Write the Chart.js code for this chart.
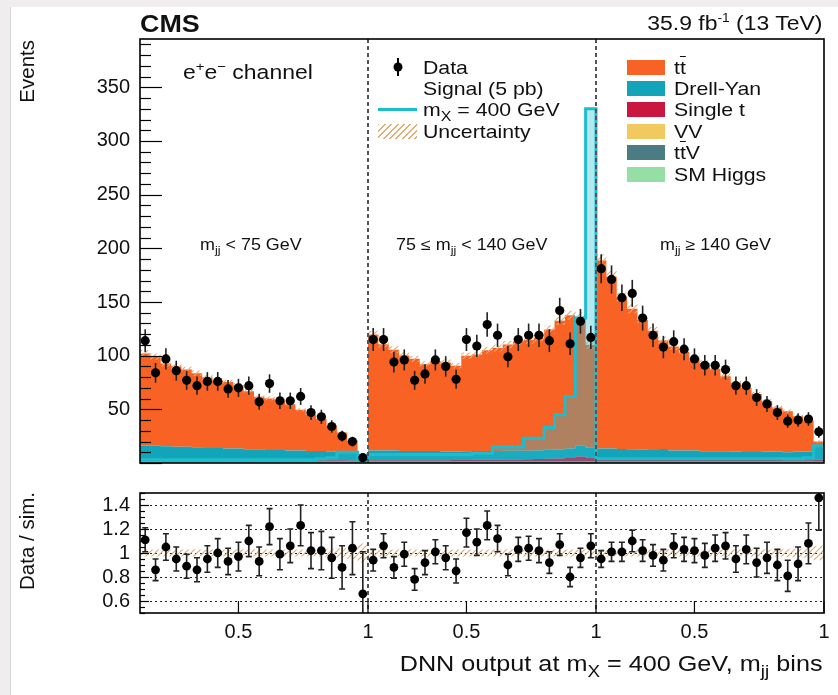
<!DOCTYPE html>
<html>
<head>
<meta charset="utf-8">
<title>DNN output at mX = 400 GeV, e+e- channel</title>
<script src="https://cdn.jsdelivr.net/npm/chart.js@4.4.1/dist/chart.umd.min.js"></script>
<style>
  html, body { margin: 0; padding: 0; }
  body { width: 838px; height: 695px; position: relative; overflow: hidden; background: #efeded;
         font-family: "Liberation Sans", Arial, Helvetica, sans-serif; color: #111; }
  #sheet { position: absolute; left: 10px; top: 7px; right: 0; bottom: 0; background: #fff; border-left: 1px solid #d4d4d4; }
  canvas { position: absolute; left: 0; }
  #main { top: 0; }
  #ratio { top: 480px; }
  .txt { position: absolute; white-space: nowrap; line-height: 1; transform: scaleX(1.12); transform-origin: left center; }
  .rt { transform-origin: right center; }
  .vt { position: absolute; writing-mode: vertical-rl; transform: rotate(180deg); white-space: nowrap; line-height: 1; font-size: 20.5px; }
  .sw { position: absolute; left: 627px; width: 38px; height: 15px; }
  sub, sup { line-height: 0; }
  .ov { text-decoration: overline; }
  .hatch { background: repeating-linear-gradient(135deg, #e3ad72 0 1.4px, rgba(255,255,255,0) 1.4px 4.5px); }
</style>
</head>
<body>
<div id="sheet"></div>
<canvas id="main" width="838" height="480"></canvas>
<canvas id="ratio" width="838" height="215"></canvas>

<div class="txt" style="left:140px; top:12px; font-size:24px; font-weight:bold;">CMS</div>
<div class="txt rt" style="right:16px; top:12.5px; font-size:20.5px;">35.9 fb<sup style="font-size:0.6em">-1</sup> (13 TeV)</div>
<div class="vt" style="left:17px; top:40px;">Events</div>
<div class="vt" style="left:17px; top:492px;">Data / sim.</div>

<div class="txt" style="left:183px; top:61.5px; font-size:20.5px;">e<sup style="font-size:0.65em">+</sup>e<sup style="font-size:0.65em">&minus;</sup> channel</div>

<svg style="position:absolute; left:393px; top:58px;" width="10" height="18">
  <line x1="5" y1="0" x2="5" y2="18" stroke="#000" stroke-width="2"/>
  <circle cx="5" cy="9" r="4.5" fill="#000"/>
</svg>
<div class="txt" style="left:423px; top:57.7px; font-size:19px;">Data</div>
<div class="txt" style="left:423px; top:78.7px; font-size:19px;">Signal (5 pb)</div>
<div style="position:absolute; left:378px; top:107.5px; width:39px; height:3px; background:#1cbdcd;"></div>
<div class="txt" style="left:423px; top:99.7px; font-size:19px;">m<sub style="font-size:0.75em">X</sub> = 400 GeV</div>
<div class="hatch" style="position:absolute; left:378px; top:124px; width:39px; height:15px;"></div>
<div class="txt" style="left:423px; top:121.7px; font-size:19px;">Uncertainty</div>

<div class="sw" style="top:59.5px; background:#f86325;"></div>
<div class="txt" style="left:674px; top:57.7px; font-size:19px;">t<span class="ov">t</span></div>
<div class="sw" style="top:80.5px; background:#12a4b8;"></div>
<div class="txt" style="left:674px; top:78.7px; font-size:19px;">Drell-Yan</div>
<div class="sw" style="top:101.5px; background:#c9173f;"></div>
<div class="txt" style="left:674px; top:99.7px; font-size:19px;">Single t</div>
<div class="sw" style="top:123.5px; background:#f1c95f;"></div>
<div class="txt" style="left:674px; top:121.7px; font-size:19px;">VV</div>
<div class="sw" style="top:144.5px; background:#4b7c83;"></div>
<div class="txt" style="left:674px; top:142.7px; font-size:19px;">t<span class="ov">t</span>V</div>
<div class="sw" style="top:166.5px; background:#95dea5;"></div>
<div class="txt" style="left:674px; top:164.7px; font-size:19px;">SM Higgs</div>

<div class="txt" style="left:200px; top:237px; font-size:16px;">m<sub style="font-size:0.7em">jj</sub> &lt; 75 GeV</div>
<div class="txt" style="left:396px; top:237px; font-size:16px;">75 &le; m<sub style="font-size:0.7em">jj</sub> &lt; 140 GeV</div>
<div class="txt" style="left:660px; top:237px; font-size:16px;">m<sub style="font-size:0.7em">jj</sub> &ge; 140 GeV</div>

<div class="txt rt" style="right:16px; top:652.5px; font-size:22.5px;">DNN output at m<sub style="font-size:0.75em">X</sub> = 400 GeV, m<sub style="font-size:0.75em">jj</sub> bins</div>

<script>
// 66 bins: three m_jj regions, each DNN output 0.12 .. 1.00 in steps of 0.04
const regionEdges = [22, 44];
const xTickPos = [9.5, 22, 31.5, 44, 53.5, 66];
const xTickText = ['0.5', '1', '0.5', '1', '0.5', '1'];
const eventTicks = [50, 100, 150, 200, 250, 300, 350];
const ratioTicks = [0.6, 0.8, 1, 1.2, 1.4];

// observed events
const dataCounts = [
  114, 84, 97, 86, 77, 72, 76, 76, 69, 70, 72, 57, 74, 58, 58, 62, 47, 43, 34, 25, 20, 5,
  115, 115, 94, 96, 77, 83, 96, 90, 78, 115, 109, 129, 119, 99, 115, 119, 119, 114, 142, 111, 132, 117,
  181, 171, 154, 158, 135, 119, 108, 113, 106, 97, 91, 91, 87, 72, 72, 61, 55, 47, 39, 40, 41, 29
];
const dataErr = [
  10.7, 9.2, 9.8, 9.3, 8.8, 8.5, 8.7, 8.7, 8.3, 8.4, 8.5, 7.5, 8.6, 7.6, 7.6, 7.9, 6.9, 6.6, 5.8, 5.0, 4.5, 2.2,
  10.7, 10.7, 9.7, 9.8, 8.8, 9.1, 9.8, 9.5, 8.8, 10.7, 10.4, 11.4, 10.9, 9.9, 10.7, 10.9, 10.9, 10.7, 11.9, 10.5, 11.5, 10.8,
  13.5, 13.1, 12.4, 12.6, 11.6, 10.9, 10.4, 10.6, 10.3, 9.8, 9.5, 9.5, 9.3, 8.5, 8.5, 7.8, 7.4, 6.9, 6.2, 6.3, 6.4, 5.4
];

// simulated backgrounds (stacked)
const ttbar = [
  86, 83, 77, 75, 72, 69, 66, 63, 62, 59, 54, 49, 48, 46, 43, 38, 34, 30, 24, 18, 11, 0,
  108, 99, 94, 89, 86, 81, 84, 83, 80, 89, 90, 94, 96, 99, 102, 103, 105, 112, 120, 124, 120, 96,
  175, 160, 141, 131, 121, 111, 101, 97, 92, 86, 82, 77, 70, 64, 60, 54, 47, 41, 38, 33, 29, 5
];
const drellYan = [
  13, 13, 12.5, 12, 12, 11.5, 11, 11, 10.5, 10.5, 10, 10, 9.5, 9.5, 9, 9, 8.5, 8.5, 8, 8, 7.5, 6,
  9, 9, 9, 8.5, 8.5, 8.5, 8.5, 8, 8, 8, 8, 8, 8, 8, 8, 8, 8, 8.5, 8.5, 9, 10, 9,
  10, 10, 9.5, 9.5, 9, 9, 9, 8.5, 8.5, 8.5, 8, 8, 8, 8, 7.5, 7.5, 7.5, 7.5, 7.5, 8, 8, 12
];
const singleTop = [
  2, 2, 2, 2, 2, 2, 1.8, 1.8, 1.8, 1.8, 1.8, 1.6, 1.6, 1.6, 1.6, 1.5, 1.5, 1.5, 1.4, 1.4, 1.2, 1,
  1.5, 1.5, 1.5, 1.5, 1.5, 1.5, 1.5, 1.5, 1.6, 1.8, 2, 2, 2, 2.2, 2.2, 2.4, 2.6, 2.8, 3, 3.5, 5, 4,
  2.5, 2.5, 2.5, 2.2, 2.2, 2, 3, 2, 2, 2, 1.8, 1.8, 1.8, 1.6, 1.6, 1.6, 2, 2, 1.5, 1.5, 1.5, 2
];
const diboson = [
  0.5, 0.5, 0.5, 0.5, 0.5, 0.5, 0.5, 0.5, 0.5, 0.5, 0.5, 0.5, 0.5, 0.5, 0.5, 0.5, 0.5, 0.5, 0.5, 0.5, 0.5, 0.5,
  0.5, 0.5, 0.5, 0.5, 0.5, 0.5, 0.5, 0.5, 0.5, 0.5, 0.5, 0.5, 0.5, 0.5, 0.5, 0.5, 0.5, 0.5, 0.5, 0.5, 0.5, 0.5,
  0.5, 0.5, 0.5, 0.5, 0.5, 0.5, 0.5, 0.5, 0.5, 0.5, 0.5, 0.5, 0.5, 0.5, 0.5, 0.5, 0.5, 0.5, 0.5, 0.5, 0.5, 0.5
];
const ttV = [
  0.4, 0.4, 0.4, 0.4, 0.4, 0.4, 0.4, 0.4, 0.4, 0.4, 0.4, 0.4, 0.4, 0.4, 0.4, 0.4, 0.4, 0.4, 0.4, 0.4, 0.4, 0.4,
  0.4, 0.4, 0.4, 0.4, 0.4, 0.4, 0.4, 0.4, 0.4, 0.4, 0.4, 0.4, 0.4, 0.4, 0.4, 0.4, 0.4, 0.4, 0.4, 0.4, 0.4, 0.4,
  0.4, 0.4, 0.4, 0.4, 0.4, 0.4, 0.4, 0.4, 0.4, 0.4, 0.4, 0.4, 0.4, 0.4, 0.4, 0.4, 0.4, 0.4, 0.4, 0.4, 0.4, 0.4
];
const smHiggs = [
  0.2, 0.2, 0.2, 0.2, 0.2, 0.2, 0.2, 0.2, 0.2, 0.2, 0.2, 0.2, 0.2, 0.2, 0.2, 0.2, 0.2, 0.2, 0.2, 0.2, 0.2, 0.2,
  0.2, 0.2, 0.2, 0.2, 0.2, 0.2, 0.2, 0.2, 0.2, 0.2, 0.2, 0.2, 0.2, 0.2, 0.2, 0.2, 0.2, 0.2, 0.2, 0.2, 0.2, 0.2,
  0.2, 0.2, 0.2, 0.2, 0.2, 0.2, 0.2, 0.2, 0.2, 0.2, 0.2, 0.2, 0.2, 0.2, 0.2, 0.2, 0.2, 0.2, 0.2, 0.2, 0.2, 0.2
];

// signal, mX = 400 GeV (5 pb)
const signal = [
  3, 3, 3, 3, 3, 3, 3, 3, 3, 3, 3, 3, 3, 3, 3, 3, 3, 4, 5, 10, 10, 4,
  8, 8, 8, 8, 8, 8, 8, 8, 8, 8, 9, 9, 15, 15, 15, 23, 23, 33, 45, 62, 135, 330,
  4, 4, 4, 4, 4, 4, 4, 4, 4, 4, 4, 4, 4, 4, 4, 4, 4, 4, 4, 4, 5, 16
];

// relative systematic uncertainty of the simulation
const uncRel = [
  0.03, 0.03, 0.03, 0.03, 0.03, 0.03, 0.03, 0.03, 0.03, 0.03, 0.03, 0.03, 0.03, 0.03, 0.03, 0.03, 0.03, 0.03, 0.035, 0.04, 0.05, 0.08,
  0.03, 0.03, 0.03, 0.03, 0.03, 0.03, 0.03, 0.03, 0.03, 0.03, 0.03, 0.03, 0.03, 0.03, 0.03, 0.03, 0.03, 0.03, 0.03, 0.03, 0.03, 0.035,
  0.03, 0.03, 0.03, 0.03, 0.03, 0.03, 0.03, 0.03, 0.03, 0.03, 0.03, 0.03, 0.03, 0.03, 0.03, 0.03, 0.03, 0.03, 0.035, 0.035, 0.04, 0.06
];

// data / simulation
const ratio = [
  1.11, 0.86, 1.05, 0.95, 0.89, 0.86, 0.95, 1.00, 0.93, 0.97, 1.10, 0.93, 1.22, 0.99, 1.06, 1.23, 1.02, 1.02, 0.96, 0.88, 1.04, 0.66,
  0.94, 1.06, 0.88, 0.99, 0.78, 0.92, 1.01, 0.96, 0.85, 1.17, 1.09, 1.23, 1.12, 0.90, 1.03, 1.04, 1.02, 0.92, 1.07, 0.80, 0.96, 1.06,
  0.95, 1.01, 1.01, 1.10, 1.02, 0.98, 0.94, 1.06, 1.03, 1.02, 0.98, 1.04, 1.06, 0.95, 1.03, 0.92, 0.96, 0.90, 0.81, 0.91, 1.08, 1.46
];
const ratioErr = [
  0.10, 0.09, 0.11, 0.10, 0.10, 0.10, 0.11, 0.12, 0.11, 0.12, 0.13, 0.12, 0.15, 0.13, 0.14, 0.17, 0.15, 0.16, 0.17, 0.18, 0.22, 0.35,
  0.09, 0.10, 0.09, 0.10, 0.09, 0.10, 0.10, 0.10, 0.10, 0.12, 0.11, 0.12, 0.11, 0.09, 0.10, 0.10, 0.10, 0.09, 0.09, 0.08, 0.08, 0.10,
  0.07, 0.08, 0.08, 0.09, 0.09, 0.09, 0.09, 0.10, 0.10, 0.10, 0.10, 0.11, 0.11, 0.11, 0.12, 0.12, 0.13, 0.13, 0.13, 0.14, 0.17, 0.27
];

const nBins = dataCounts.length;

Chart.defaults.font.family = '"Liberation Sans", Arial, sans-serif';
Chart.defaults.color = '#111';

// histogram helpers: step points at bin edges, markers at bin centres
const steps = vals => vals.map((v, i) => ({ x: i, y: v })).concat([{ x: vals.length, y: vals[vals.length - 1] }]);
const centers = vals => vals.map((v, i) => ({ x: i + 0.5, y: v }));

function hatchPattern(color) {
  const c = document.createElement('canvas');
  c.width = 6; c.height = 6;
  const g = c.getContext('2d');
  g.strokeStyle = color;
  g.lineWidth = 1.2;
  g.beginPath();
  g.moveTo(0, 6); g.lineTo(6, 0);
  g.moveTo(-1, 1); g.lineTo(1, -1);
  g.moveTo(5, 7); g.lineTo(7, 5);
  g.stroke();
  return g.createPattern(c, 'repeat');
}
const hatch = hatchPattern('#e3ad72');

// frame, inward ticks, m_jj region dividers, error bars
const decor = {
  id: 'decor',
  beforeDatasetDraw(chart, args, opts) {
    const ds = chart.data.datasets[args.index];
    if (!ds.errors) return;
    const { ctx, chartArea: a, scales: { x, y } } = chart;
    ctx.save();
    ctx.beginPath();
    ctx.rect(a.left, a.top, a.right - a.left, a.bottom - a.top);
    ctx.clip();
    ctx.strokeStyle = '#222';
    ctx.lineWidth = 1.6;
    const cw = opts.capWidth || 0;
    ds.data.forEach((p, i) => {
      const px = x.getPixelForValue(p.x);
      const y1 = y.getPixelForValue(p.y - ds.errors[i]);
      const y2 = y.getPixelForValue(p.y + ds.errors[i]);
      ctx.beginPath();
      ctx.moveTo(px, y1); ctx.lineTo(px, y2);
      if (cw) {
        ctx.moveTo(px - cw, y1); ctx.lineTo(px + cw, y1);
        ctx.moveTo(px - cw, y2); ctx.lineTo(px + cw, y2);
      }
      ctx.stroke();
    });
    ctx.restore();
  },
  afterDatasetsDraw(chart, args, opts) {
    const { ctx, chartArea: a, scales: { x, y } } = chart;
    ctx.save();

    // region dividers
    ctx.strokeStyle = '#555';
    ctx.lineWidth = 2;
    ctx.setLineDash([4, 3]);
    regionEdges.forEach(b => {
      const px = x.getPixelForValue(b);
      ctx.beginPath(); ctx.moveTo(px, a.top); ctx.lineTo(px, a.bottom); ctx.stroke();
    });
    ctx.setLineDash([]);

    // y ticks drawn inside the frame
    ctx.strokeStyle = '#000';
    ctx.lineWidth = 1.2;
    const first = Math.ceil(y.min / opts.minorStep - 1e-6);
    for (let k = first; k * opts.minorStep <= y.max + 1e-9; k++) {
      const v = k * opts.minorStep;
      const ratioToMajor = v / opts.majorStep;
      const isMajor = Math.abs(ratioToMajor - Math.round(ratioToMajor)) < 1e-6;
      const len = isMajor ? opts.majorLen : opts.minorLen;
      const py = Math.round(y.getPixelForValue(v)) + 0.5;
      ctx.beginPath(); ctx.moveTo(a.left, py); ctx.lineTo(a.left + len, py); ctx.stroke();
    }

    // x ticks from the bottom edge
    if (opts.xTickLen) {
      xTickPos.forEach(v => {
        const px = x.getPixelForValue(v);
        ctx.beginPath(); ctx.moveTo(px, a.bottom); ctx.lineTo(px, a.bottom - opts.xTickLen); ctx.stroke();
      });
    }

    // frame
    ctx.lineWidth = 1.6;
    ctx.strokeRect(a.left, a.top, a.right - a.left, a.bottom - a.top);
    ctx.restore();
  }
};

const bkgDefs = [
  { label: 'SM Higgs', values: smHiggs, color: '#95dea5' },
  { label: 'ttV', values: ttV, color: '#4b7c83' },
  { label: 'VV', values: diboson, color: '#f1c95f' },
  { label: 'Single t', values: singleTop, color: '#c9173f' },
  { label: 'Drell-Yan', values: drellYan, color: '#12a4b8' },
  { label: 'tt', values: ttbar, color: '#f86325' }
];

const simTotal = ttbar.map((_, i) => bkgDefs.reduce((s, d) => s + d.values[i], 0));
const uncLo = simTotal.map((t, i) => t * (1 - uncRel[i]));
const uncHi = simTotal.map((t, i) => t * (1 + uncRel[i]));

const bkgSets = bkgDefs.map((d, k) => ({
  label: d.label,
  data: steps(d.values),
  stepped: 'before',
  stack: 'bkg',
  fill: k === 0 ? 'origin' : '-1',
  backgroundColor: d.color,
  borderColor: 'rgba(0,0,0,0)',
  borderWidth: 0,
  pointRadius: 0,
  order: 4
}));

const tickFont = { size: 20 };
// keep the plot frame where the layout padding puts it
const yFit = s => { s.width = 140; s.paddingTop = 0; s.paddingBottom = 0; };

new Chart(document.getElementById('main'), {
  type: 'line',
  data: {
    datasets: [
      ...bkgSets,
      { label: 'unc-lo', data: steps(uncLo), stepped: 'before', stack: 'uLo', fill: false,
        borderColor: 'rgba(0,0,0,0)', borderWidth: 0, pointRadius: 0, order: 3 },
      { label: 'Uncertainty', data: steps(uncHi), stepped: 'before', stack: 'uHi', fill: '-1',
        backgroundColor: hatch, borderColor: 'rgba(0,0,0,0)', borderWidth: 0, pointRadius: 0, order: 3 },
      { label: 'Signal', data: steps(signal), stepped: 'before', stack: 'sig', fill: 'origin',
        backgroundColor: 'rgba(40,185,205,0.35)', borderColor: '#1cbdcd', borderWidth: 3, pointRadius: 0, order: 2 },
      { label: 'Data', data: centers(dataCounts), errors: dataErr, stack: 'data', showLine: false,
        pointRadius: 4.6, pointBackgroundColor: '#000', pointBorderWidth: 0, order: 1 }
    ]
  },
  options: {
    responsive: false,
    animation: false,
    events: [],
    layout: { padding: { left: 0, right: 14, top: 39, bottom: 17 } },
    plugins: {
      legend: { display: false },
      tooltip: { enabled: false },
      decor: { minorStep: 10, majorStep: 50, majorLen: 22, minorLen: 11, xTickLen: 0 }
    },
    scales: {
      x: { type: 'linear', min: 0, max: nBins, display: false },
      y: {
        type: 'linear', stacked: true, min: 0, max: 395,
        afterBuildTicks: s => { s.ticks = eventTicks.map(v => ({ value: v })); },
        afterFit: yFit,
        grid: { display: false, drawTicks: false },
        border: { display: false },
        ticks: { font: tickFont, color: '#111', padding: 10 }
      }
    }
  },
  plugins: [decor]
});

const ratioLo = uncRel.map(u => 1 - u);
const ratioHi = uncRel.map(u => 1 + u);

new Chart(document.getElementById('ratio'), {
  type: 'line',
  data: {
    datasets: [
      { label: 'unc-lo', data: steps(ratioLo), stepped: 'before', fill: false,
        borderColor: 'rgba(0,0,0,0)', borderWidth: 0, pointRadius: 0, order: 3 },
      { label: 'Uncertainty', data: steps(ratioHi), stepped: 'before', fill: '-1',
        backgroundColor: hatch, borderColor: 'rgba(0,0,0,0)', borderWidth: 0, pointRadius: 0, order: 3 },
      { label: 'Data / sim.', data: centers(ratio), errors: ratioErr, showLine: false,
        pointRadius: 4.4, pointBackgroundColor: '#000', pointBorderWidth: 0, order: 1 }
    ]
  },
  options: {
    responsive: false,
    animation: false,
    events: [],
    layout: { padding: { left: 0, right: 14, top: 13, bottom: 0 } },
    plugins: {
      legend: { display: false },
      tooltip: { enabled: false },
      decor: { minorStep: 0.05, majorStep: 0.2, majorLen: 9, minorLen: 5, xTickLen: 12, capWidth: 3 }
    },
    scales: {
      x: {
        type: 'linear', min: 0, max: nBins,
        afterBuildTicks: s => { s.ticks = xTickPos.map(v => ({ value: v })); },
        afterFit: s => { s.height = 82; s.paddingLeft = 0; s.paddingRight = 0; },
        grid: { display: false, drawTicks: false },
        border: { display: false },
        ticks: { font: tickFont, color: '#111', padding: 7, autoSkip: false, maxRotation: 0,
                 callback: (v, i) => xTickText[i] }
      },
      y: {
        type: 'linear', min: 0.5, max: 1.5,
        afterBuildTicks: s => { s.ticks = ratioTicks.map(v => ({ value: v })); },
        afterFit: yFit,
        grid: { display: true, drawTicks: false, color: '#222', lineWidth: 1 },
        border: { display: false, dash: [2, 3] },
        ticks: { font: tickFont, color: '#111', padding: 10, callback: v => String(Number(v.toFixed(1))) }
      }
    }
  },
  plugins: [decor]
});
</script>
</body>
</html>
